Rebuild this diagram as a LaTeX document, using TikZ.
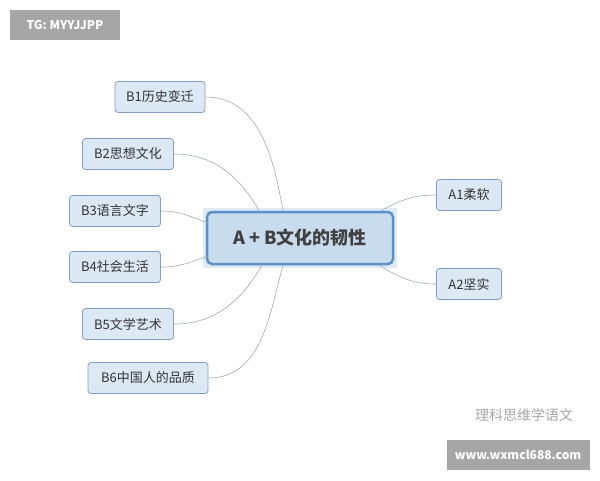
\documentclass[tikz,border=0pt]{standalone}
\usepackage{fontspec}
\setmainfont{Noto Sans CJK SC}
\usetikzlibrary{positioning}
\definecolor{boxfill}{HTML}{DDE8F5}
\definecolor{boxline}{HTML}{7F9FC6}
\definecolor{mainfill}{HTML}{C9DCEE}
\definecolor{mainline}{HTML}{5B8FC7}
\definecolor{linkgray}{HTML}{A0A8B0}
\definecolor{tagfill}{HTML}{A6A6A6}
\tikzset{
  topic/.style={draw=boxline, fill=boxfill, rounded corners=3pt, line width=0.8pt,
    minimum height=31pt, inner xsep=6pt, text=black!80, font=\fontsize{13}{15}\selectfont},
  central/.style={draw=mainline, fill=mainfill, rounded corners=5pt, line width=2.5pt,
    minimum width=186pt, minimum height=52pt, text=black!75, font=\bfseries\fontsize{18}{21}\selectfont},
  link/.style={draw=linkgray, line width=0.6pt},
  tag/.style={fill=tagfill, text=white, inner sep=0pt, font=\bfseries\fontsize{12}{14}\selectfont}
}
\begin{document}
\begin{tikzpicture}[x=1pt,y=-1pt]
\useasboundingbox (0,0) rectangle (600,480);
% main topic
\fill[mainfill!60] (203,208) rectangle (397,268);
\node[central] (main) at (300,238) {A + B文化的韧性};
\coordinate (t1) at (283,211);
\coordinate (t2) at (260,212);
\coordinate (t3) at (208,223);
\coordinate (t4) at (208,256);
\coordinate (t5) at (262,265);
\coordinate (t6) at (283,265);
\coordinate (ta1) at (381,211);
\coordinate (ta2) at (380,266);
% subtopics
\node[topic, minimum width=90pt] (b1) at (160,97) {B1历史变迁};
\node[topic, minimum width=91pt] (b2) at (128,154) {B2思想文化};
\node[topic, minimum width=91pt] (b3) at (115,211) {B3语言文字};
\node[topic, minimum width=91pt] (b4) at (115,267) {B4社会生活};
\node[topic, minimum width=91pt] (b5) at (128,324) {B5文学艺术};
\node[topic, minimum width=120pt] (b6) at (148,378) {B6中国人的品质};
\node[topic, minimum width=65pt] (a1) at (469,195) {A1柔软};
\node[topic, minimum width=65pt] (a2) at (469,284) {A2坚实};
% connectors
\draw[link] (b1.east) to[out=0,in=100] (t1);
\draw[link] (b2.east) to[out=0,in=120] (t2);
\draw[link] (b3.east) to[out=0,in=160] (t3);
\draw[link] (b4.east) to[out=0,in=200] (t4);
\draw[link] (b5.east) to[out=0,in=240] (t5);
\draw[link] (b6.east) to[out=0,in=255] (t6);
\draw[link] (ta1) to[out=30,in=180] (a1.west);
\draw[link] (ta2) to[out=-30,in=180] (a2.west);
% marks
\node[tag, minimum width=110pt, minimum height=30pt] (tg) at (65,25) {TG: MYYJJPP};
\node[text=black!35, font=\fontsize{14}{16}\selectfont] (wm) at (524,415) {理科思维学语文};
\node[tag, minimum width=143pt, minimum height=30pt] (www) at (518,455) {www.wxmcl688.com};
\end{tikzpicture}
\end{document}
